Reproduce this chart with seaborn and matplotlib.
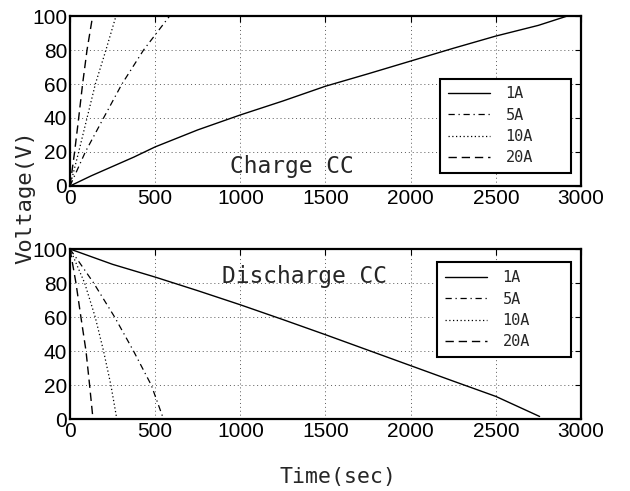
import matplotlib
matplotlib.use("Agg")
import matplotlib.pyplot as plt
import seaborn as sns
import pandas as pd
from matplotlib import font_manager

# ---------------- data ----------------
currents = ["1A", "5A", "10A", "20A"]

charge_t_1a = [0, 125, 250, 375, 500, 750, 1000, 1250, 1500, 1750, 2000, 2250, 2500, 2750, 2920, 3000]
charge_v_1a = [0, 6, 11.5, 17, 23, 33, 41.8, 50, 58.7, 66, 73.5, 81, 88.2, 94.5, 100, 100]
charge_t_5a = [0, 90, 197, 305, 432, 585]
charge_v_5a = [0, 20, 40, 60, 80, 100]
charge_t_10a = [0, 51, 100, 149, 211, 270]
charge_v_10a = [0, 20, 40, 60, 80, 100]
charge_t_20a = [0, 27, 51, 74, 100, 133]
charge_v_20a = [0, 20, 40, 60, 80, 100]

dis_t_1a = [0, 250, 500, 750, 1000, 1250, 1500, 1750, 2000, 2250, 2500, 2757]
dis_v_1a = [100, 91, 83.5, 75.5, 67.2, 58.5, 49.6, 40.5, 31.4, 22.3, 13.3, 1.5]
dis_t_5a = [0, 70, 139, 262, 373, 477, 549]
dis_v_5a = [100, 90, 80, 60, 40, 20, 0]
dis_t_10a = [0, 86, 148, 197, 240, 275]
dis_v_10a = [100, 80, 60, 40, 20, 0]
dis_t_20a = [0, 35, 64, 94, 115, 135]
dis_v_20a = [100, 80, 60, 40, 20, 0]

x_ticks = [0, 500, 1000, 1500, 2000, 2500, 3000]
y_ticks = [0, 20, 40, 60, 80, 100]

charge = [(charge_t_1a, charge_v_1a), (charge_t_5a, charge_v_5a),
          (charge_t_10a, charge_v_10a), (charge_t_20a, charge_v_20a)]
discharge = [(dis_t_1a, dis_v_1a), (dis_t_5a, dis_v_5a),
             (dis_t_10a, dis_v_10a), (dis_t_20a, dis_v_20a)]

# ---------------- style ----------------
sns.set_theme(style="white")
names = {f.name for f in font_manager.fontManager.ttflist}
tick_font = "Liberation Sans Narrow" if "Liberation Sans Narrow" in names else "Liberation Sans"
tick_size = 17.5 if tick_font == "Liberation Sans Narrow" else 15
mono_font = "DejaVu Sans Mono"
plt.rcParams['font.family'] = [tick_font, 'DejaVu Sans']

styles = [dict(linestyle="-", lw=1.0),
          dict(linestyle=(0, (5, 3, 1, 3)), lw=0.9),
          dict(linestyle=(0, (1, 2)), lw=0.9),
          dict(linestyle=(0, (6, 3.5)), lw=1.0)]

fig = plt.figure(figsize=(6.3, 4.91), dpi=100)
ax1 = fig.add_axes([0.1111, 0.6212, 0.8111, 0.3462])
ax2 = fig.add_axes([0.1111, 0.1466, 0.8111, 0.3462])


def draw(ax, series, legend_anchor, text, text_xy):
    for (t, v), lab, st in zip(series, currents, styles):
        df = pd.DataFrame({"t": t, "v": v})
        sns.lineplot(data=df, x="t", y="v", ax=ax, color="black", label=lab,
                     estimator=None, sort=False, **st)
    ax.set_xlim(0, 3000)
    ax.set_ylim(0, 100)
    ax.set_xticks(x_ticks)
    ax.set_yticks(y_ticks)
    ax.set_xlabel("")
    ax.set_ylabel("")
    ax.grid(True, color="0.35", linestyle=(0, (1, 3)), lw=0.7)
    ax.tick_params(direction="in", top=True, right=True, length=4, width=0.8,
                   labelsize=tick_size, pad=2, colors="black")
    for lbl in ax.get_xticklabels() + ax.get_yticklabels():
        lbl.set_family([tick_font, 'DejaVu Sans'])
    for sp in ax.spines.values():
        sp.set_linewidth(1.6)
        sp.set_color("black")
    leg = ax.legend(loc="lower left", bbox_to_anchor=legend_anchor, mode="expand",
                    borderaxespad=0, frameon=True, fancybox=False, framealpha=1,
                    edgecolor="black", prop={"family": mono_font, "size": 11},
                    handlelength=2.8, handletextpad=1.0, labelspacing=0.42,
                    borderpad=0.5)
    leg.get_frame().set_linewidth(1.5)
    ax.text(text_xy[0], text_xy[1], text, transform=ax.transAxes, ha="center",
            va="baseline", family=mono_font, fontsize=16.5)


draw(ax1, charge, (0.724, 0.076, 0.256, 0.56), "Charge CC", (0.435, 0.075))
draw(ax2, discharge, (0.718, 0.365, 0.262, 0.55), "Discharge CC", (0.458, 0.80))

fig.text(0.040, 0.599, "Voltage(V)", rotation=90, ha="center", va="center",
         family=mono_font, fontsize=16)
fig.text(0.536, 0.016, "Time(sec)", ha="center", va="baseline",
         family=mono_font, fontsize=15.5)

fig.savefig("out.png", dpi=100, facecolor="white")
